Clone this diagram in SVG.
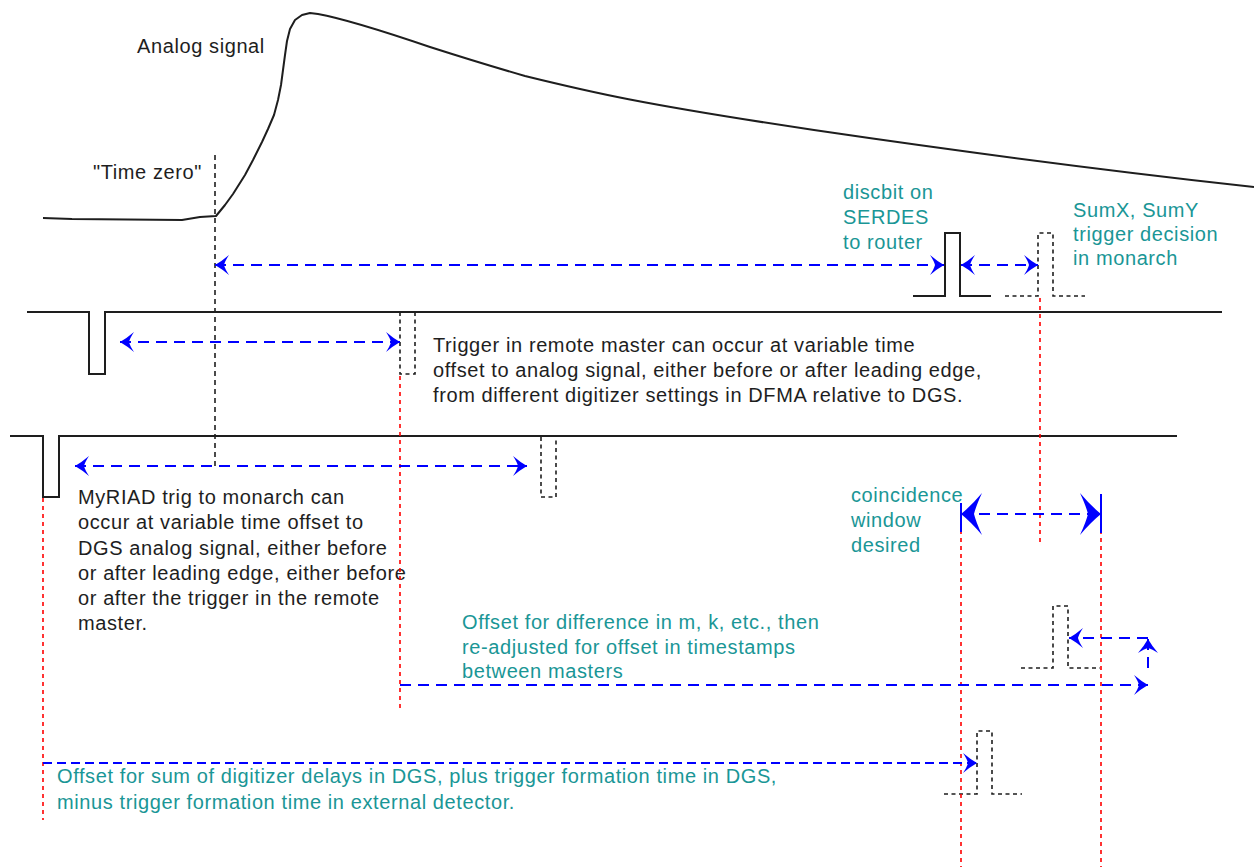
<svg xmlns="http://www.w3.org/2000/svg" width="1254" height="867" viewBox="0 0 1254 867">
<style>
.bg{fill:#ffffff}
.sig{fill:none;stroke:#1e1e1e;stroke-width:2;stroke-linejoin:round}
.pulse{fill:none;stroke:#1e1e1e;stroke-width:2}
.dpulse{fill:none;stroke:#1e1e1e;stroke-width:1.6;stroke-dasharray:4 3.5}
.tz{fill:none;stroke:#1e1e1e;stroke-width:1.6;stroke-dasharray:5 4}
.red{fill:none;stroke:#ff0000;stroke-width:1.6;stroke-dasharray:4 4}
.arr{fill:none;stroke:#0000ff;stroke-width:2;stroke-dasharray:11 7}
.arrs{fill:none;stroke:#0000ff;stroke-width:2;stroke-dasharray:9 5}
.tick{fill:none;stroke:#0000ff;stroke-width:2}
.blk{font-family:"Liberation Sans",Arial,sans-serif;font-size:20px;letter-spacing:0.6px;fill:#1e1e1e}
.teal{font-family:"Liberation Sans",Arial,sans-serif;font-size:20px;letter-spacing:0.6px;fill:#1a9696}
</style>
<defs>
<marker id="ah" viewBox="-16 -12 18 24" refX="0" refY="0" markerWidth="18" markerHeight="24" markerUnits="userSpaceOnUse" orient="auto-start-reverse">
<path d="M0,0 Q-7,-4 -14,-10 Q-10,-4 -9,0 Q-10,4 -14,10 Q-7,4 0,0 Z" fill="#0000ff"/>
</marker>
<marker id="ahb" viewBox="-24 -22 26 44" refX="0" refY="0" markerWidth="26" markerHeight="44" markerUnits="userSpaceOnUse" orient="auto-start-reverse">
<path d="M0,0 Q-10,-8 -21,-21 Q-15,-8 -13,0 Q-15,8 -21,21 Q-10,8 0,0 Z" fill="#0000ff"/>
</marker>
</defs>
<rect class="bg" x="0" y="0" width="1254" height="867"/>

<g id="analog-signal">
<path class="sig" d="M43,218 L72,219 L182,220 L200,217 L216,216 L225,205 L233,194 L245,175 L253,160 L262,142 L268,129 L274,115 L278,100 L281,85 L283,70 L285,55 L287,41 L290,29 L295,20 L302,15 L310,13 L318,14 C340,18 380,30 430,47 C480,63 525,76 525,76 C590,92 640,104 814,130 C950,150 1100,170 1254,187"/>
<text class="blk" x="137" y="53">Analog signal</text>
</g>

<g id="time-zero">
<line class="tz" x1="215" y1="155" x2="215" y2="468"/>
<text class="blk" x="93" y="179">"Time zero"</text>
</g>

<g id="discbit">
<path class="pulse" d="M913,296 L945,296 L945,233 L960,233 L960,296 L991,296"/>
<text class="teal" x="843" y="199">discbit on</text>
<text class="teal" x="843" y="224">SERDES</text>
<text class="teal" x="843" y="249">to router</text>
</g>

<g id="sum-trigger">
<path class="dpulse" d="M1005,296 L1038,296 L1038,233 L1053,233 L1053,296 L1085,296"/>
<text class="teal" x="1073" y="217">SumX, SumY</text>
<text class="teal" x="1073" y="241">trigger decision</text>
<text class="teal" x="1073" y="265">in monarch</text>
</g>

<g id="remote-master-line">
<path class="pulse" d="M27,312 L89,312 L89,374 L105,374 L105,312 L1222,312"/>
<path class="dpulse" d="M400,312 L400,374 L415,374 L415,313"/>
<text class="blk" x="433" y="352">Trigger in remote master can occur at variable time</text>
<text class="blk" x="433" y="377">offset to analog signal, either before or after leading edge,</text>
<text class="blk" x="433" y="402">from different digitizer settings in DFMA relative to DGS.</text>
</g>

<g id="myriad-line">
<path class="pulse" d="M10,436 L43,436 L43,497 L59,497 L59,436 L1177,436"/>
<path class="dpulse" d="M541,437 L541,497 L556,497 L556,437"/>
<text class="blk" x="78" y="504">MyRIAD trig to monarch can</text>
<text class="blk" x="78" y="529">occur at variable time offset to</text>
<text class="blk" x="78" y="555">DGS analog signal, either before</text>
<text class="blk" x="78" y="580">or after leading edge, either before</text>
<text class="blk" x="78" y="605">or after the trigger in the remote</text>
<text class="blk" x="78" y="630">master.</text>
</g>

<g id="coincidence-window">
<text class="teal" x="851" y="502">coincidence</text>
<text class="teal" x="851" y="527">window</text>
<text class="teal" x="851" y="552">desired</text>
</g>

<g id="offset-masters">
<path class="dpulse" d="M1021,668 L1053,668 L1053,606 L1068,606 L1068,668 L1100,668"/>
<text class="teal" x="462" y="629">Offset for difference in m, k, etc., then</text>
<text class="teal" x="462" y="654">re-adjusted for offset in timestamps</text>
<text class="teal" x="462" y="678">between masters</text>
</g>

<g id="offset-digitizer">
<path class="dpulse" d="M944,794 L977,794 L977,731 L992,731 L992,794 L1022,794"/>
<text class="teal" x="57" y="783">Offset for sum of digitizer delays in DGS, plus trigger formation time in DGS,</text>
<text class="teal" x="57" y="809">minus trigger formation time in external detector.</text>
</g>

<g id="connectors">
<line class="red" x1="400" y1="376" x2="400" y2="710"/>
<line class="red" x1="43" y1="498" x2="43" y2="820"/>
<line class="red" x1="1040" y1="298" x2="1040" y2="545"/>
<line class="red" x1="961" y1="514" x2="961" y2="867"/>
<line class="red" x1="1101" y1="514" x2="1101" y2="867"/>
<line class="tick" x1="961" y1="503" x2="961" y2="532"/>
<line class="tick" x1="1101" y1="494" x2="1101" y2="533"/>
<line class="arr" x1="215" y1="265" x2="944" y2="265" marker-start="url(#ah)" marker-end="url(#ah)"/>
<line class="arr" x1="961" y1="265" x2="1038" y2="265" marker-start="url(#ah)" marker-end="url(#ah)"/>
<line class="arr" x1="120" y1="342" x2="400" y2="342" marker-start="url(#ah)" marker-end="url(#ah)"/>
<line class="arr" x1="75" y1="466" x2="527" y2="466" marker-start="url(#ah)" marker-end="url(#ah)"/>
<line class="arr" x1="961" y1="514" x2="1101" y2="514" marker-start="url(#ahb)" marker-end="url(#ahb)"/>
<line class="arr" x1="400" y1="685" x2="1148" y2="685" marker-end="url(#ah)"/>
<line class="arr" x1="1148" y1="668" x2="1148" y2="639" marker-end="url(#ah)"/>
<line class="arr" x1="1148" y1="638" x2="1069" y2="638" marker-end="url(#ah)"/>
<line class="arrs" x1="43" y1="763" x2="977" y2="763" marker-end="url(#ah)"/>
</g>
</svg>
